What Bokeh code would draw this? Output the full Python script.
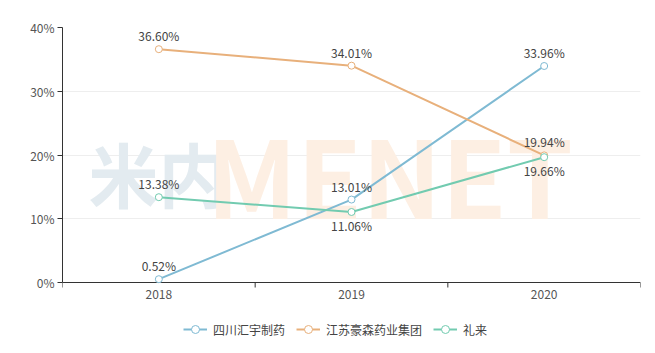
from bokeh.plotting import figure
from bokeh.models import (ColumnDataSource, FixedTicker, Range1d, Legend, LegendItem,
                          PrintfTickFormatter)
from bokeh.core.properties import value
from bokeh.embed import file_html
from bokeh.resources import INLINE

years = ["2018", "2019", "2020"]
huiyu = [0.52, 13.01, 33.96]      # 四川汇宇制药
haosen = [36.60, 34.01, 19.94]    # 江苏豪森药业集团
lilly = [13.38, 11.06, 19.66]     # 礼来
names = ["四川汇宇制药", "江苏豪森药业集团", "礼来"]
y_ticks = [0, 10, 20, 30, 40]

colors = ["#7fbad3", "#e8b07b", "#72cbb0"]
label_sides = [["above", "above", "above"],
               ["above", "above", "above"],
               ["above", "below", "below"]]

FONT = "Noto Sans CJK SC"
AXIS = "#333333"

# pixel layout of the frame
W, H = 655, 353
FRAME_TOP, ZERO_PX = 27, 282
px_per_unit = (ZERO_PX - FRAME_TOP) / (y_ticks[-1] - y_ticks[0])

yr = [int(y) for y in years]
x0, x1 = yr[0] - 0.5, yr[-1] + 0.5
y_zero, y_top = y_ticks[0], y_ticks[-1]
y_start = y_zero - (H - ZERO_PX) / px_per_unit

p = figure(width=W, height=H, output_backend="svg", toolbar_location=None,
           x_range=Range1d(x0, x1), y_range=Range1d(y_start, y_top),
           x_axis_location=None,
           min_border_left=62, min_border_right=15, min_border_top=FRAME_TOP,
           min_border_bottom=0)
p.outline_line_color = None
p.background_fill_color = "white"
p.border_fill_color = "white"

# watermark (decoration, anchored at the 0% line's left end)
p.text(x=[x0], y=[y_zero], text=["米内"], x_offset=26, y_offset=-110,
       text_font=value(FONT), text_font_style="bold", text_font_size="70px",
       text_color="#e3ebf0", text_baseline="middle", text_align="left")
p.text(x=[x0], y=[y_zero], text=["MENET"], x_offset=144, y_offset=-110,
       text_font=value(FONT), text_font_style="bold", text_font_size="106px",
       text_color="#fdefe3", text_baseline="middle", text_align="left")

# y grid
p.xgrid.visible = False
p.ygrid.grid_line_color = "#eeeeee"
p.ygrid.ticker = FixedTicker(ticks=y_ticks)

# hand-drawn category x axis at 0%
bounds = [y - 0.5 for y in yr] + [yr[-1] + 0.5]
tick_len = 5 / px_per_unit
p.segment(x0=[x0], y0=[y_zero], x1=[x1], y1=[y_zero], line_color=AXIS, line_width=1)
p.segment(x0=bounds, y0=[y_zero] * len(bounds), x1=bounds,
          y1=[y_zero - tick_len] * len(bounds), line_color=AXIS, line_width=1)
p.text(x=yr, y=[y_zero] * len(yr), text=years, y_offset=7, text_align="center",
       text_baseline="top", text_font=value(FONT), text_font_size="12px",
       text_color="#555555")

xs = yr
renderers = []
for name, vals, col, sides in zip(names, [huiyu, haosen, lilly], colors, label_sides):
    src = ColumnDataSource(dict(x=xs, y=vals))
    l = p.line("x", "y", source=src, line_color=col, line_width=2)
    c = p.scatter("x", "y", source=src, size=7, marker="circle", fill_color="white",
                  line_color=col, line_width=1)
    renderers.append((name, [l, c]))
    up = [i for i, s in enumerate(sides) if s == "above"]
    dn = [i for i, s in enumerate(sides) if s == "below"]
    if up:
        s_up = ColumnDataSource(dict(x=[xs[i] for i in up], y=[vals[i] for i in up],
                                     lab=[f"{vals[i]:.2f}%" for i in up]))
        p.text("x", "y", text="lab", source=s_up, text_align="center", text_baseline="bottom",
               y_offset=-5, text_font=value(FONT), text_font_size="12px", text_color="#444444")
    if dn:
        s_dn = ColumnDataSource(dict(x=[xs[i] for i in dn], y=[vals[i] for i in dn],
                                     lab=[f"{vals[i]:.2f}%" for i in dn]))
        p.text("x", "y", text="lab", source=s_dn, text_align="center", text_baseline="top",
               y_offset=5, text_font=value(FONT), text_font_size="12px", text_color="#444444")

# y axis
p.yaxis.ticker = FixedTicker(ticks=y_ticks)
p.yaxis.bounds = (y_zero, y_top)
p.yaxis.formatter = PrintfTickFormatter(format="%d%%")
p.yaxis.major_tick_out = 5
p.yaxis.major_tick_in = 0
p.yaxis.minor_tick_line_color = None
p.yaxis.major_tick_line_color = AXIS
p.yaxis.axis_line_color = AXIS
p.yaxis.major_label_standoff = 3
p.yaxis.major_label_text_font = FONT
p.yaxis.major_label_text_font_size = "12px"
p.yaxis.major_label_text_color = "#555555"

legend = Legend(items=[LegendItem(label=n, renderers=r) for n, r in renderers],
                orientation="horizontal", location=(121, 14),
                label_text_font=FONT, label_text_font_size="12px", label_text_color="#444444",
                glyph_width=24, glyph_height=20, spacing=11, label_standoff=6, padding=10,
                border_line_color=None, background_fill_alpha=0)
p.add_layout(legend, "center")

open("out.html", "w").write(file_html(p, INLINE))
